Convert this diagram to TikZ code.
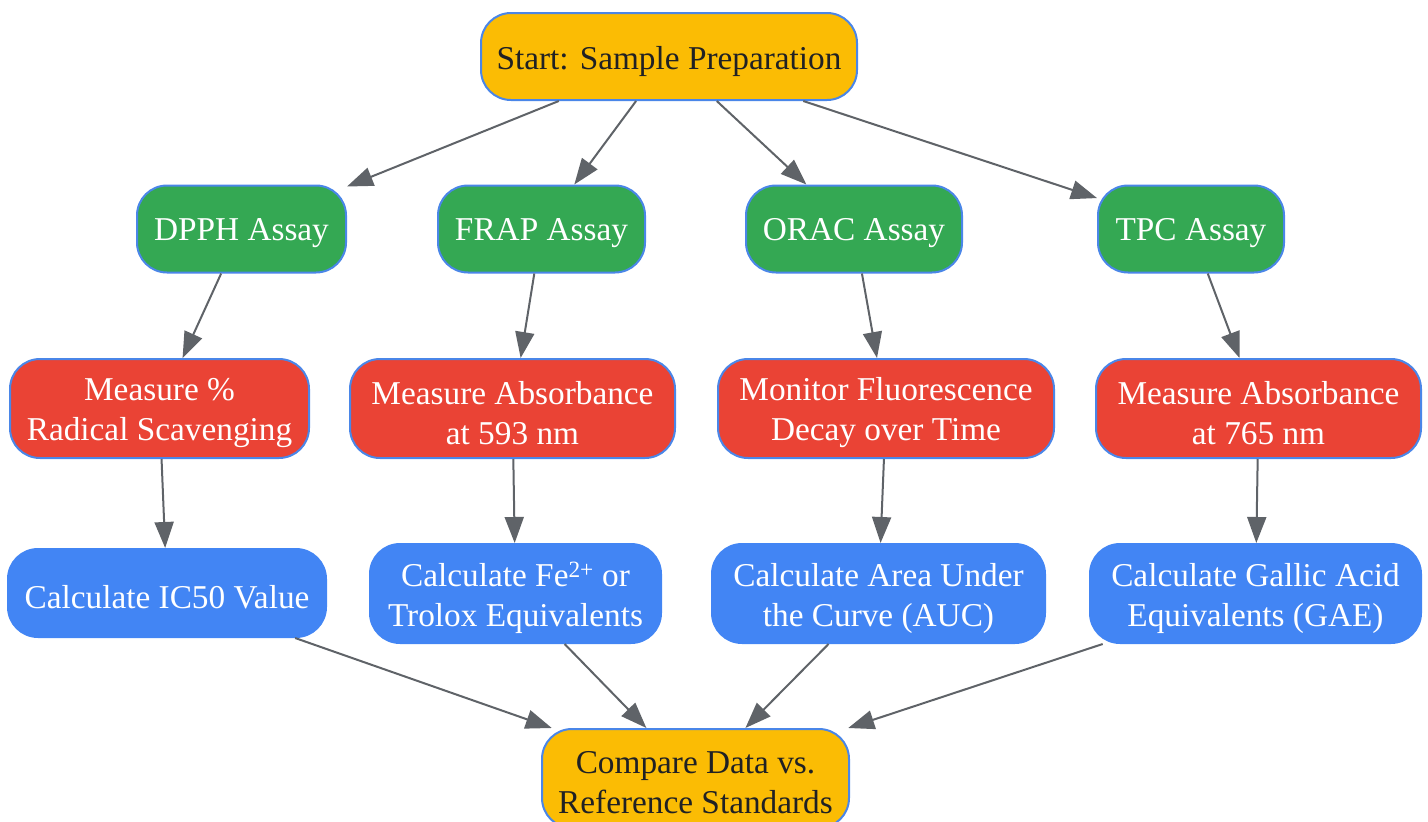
\documentclass[tikz,border=0pt]{standalone}
\usepackage{fontspec}
\setmainfont{Liberation Serif}
\usetikzlibrary{arrows.meta}
\definecolor{cyel}{HTML}{FBBC04}
\definecolor{cgrn}{HTML}{34A853}
\definecolor{cred}{HTML}{EA4335}
\definecolor{cblu}{HTML}{4285F4}
\definecolor{cbord}{HTML}{4A86E8}
\definecolor{carr}{HTML}{5F6368}
\definecolor{ctxt}{HTML}{202124}
\begin{document}
\begin{tikzpicture}[x=1pt,y=-1pt,
  box/.style={draw=cbord, line width=2pt, rounded corners=30pt, inner sep=0pt},
  ybox/.style={box, fill=cyel},
  gbox/.style={box, fill=cgrn, minimum height=87pt},
  rbox/.style={box, fill=cred, minimum height=99pt},
  bbox/.style={box, draw=cblu, fill=cblu, minimum height=99pt},
  lab/.style={align=center, font=\fontsize{33.3}{40}\selectfont, inner sep=0pt, yshift=-4.5pt, text=white},
  dlab/.style={lab, text=ctxt},
  arr/.style={draw=carr, line width=2pt, -{Triangle[length=26pt,width=19pt]}}]
\useasboundingbox (0,0) rectangle (1428,822);
\node[ybox, minimum width=376pt, minimum height=87pt] (start) at (669,56.5) {};
\node[dlab] (tstart) at (start.center) {Start: Sample Preparation};
\node[gbox, minimum width=209pt] (dpph) at (241.5,229) {};
\node[lab] (tdpph) at (dpph.center) {DPPH Assay};
\node[gbox, minimum width=207pt] (frap) at (541.5,229) {};
\node[lab] (tfrap) at (frap.center) {FRAP Assay};
\node[gbox, minimum width=216pt] (orac) at (854,229) {};
\node[lab] (torac) at (orac.center) {ORAC Assay};
\node[gbox, minimum width=186pt] (tpc) at (1191,229) {};
\node[lab] (ttpc) at (tpc.center) {TPC Assay};
\node[rbox, minimum width=299pt] (m1) at (159.5,408.5) {};
\node[lab] (tm1) at (m1.center) {Measure \%\\Radical Scavenging};
\node[rbox, minimum width=325pt] (m2) at (512.5,408.5) {};
\node[lab] (tm2) at (m2.center) {Measure Absorbance\\at 593 nm};
\node[rbox, minimum width=336pt] (m3) at (886,408.5) {};
\node[lab] (tm3) at (m3.center) {Monitor Fluorescence\\Decay over Time};
\node[rbox, minimum width=325pt] (m4) at (1258.5,408.5) {};
\node[lab] (tm4) at (m4.center) {Measure Absorbance\\at 765 nm};
\node[bbox, minimum width=318pt, minimum height=88pt] (c1) at (167,593) {};
\node[lab] (tc1) at (c1.center) {Calculate IC50 Value};
\node[bbox, minimum width=291pt] (c2) at (515.5,593.5) {};
\node[lab] (tc2) at (c2.center) {Calculate Fe\textsuperscript{2+} or\\Trolox Equivalents};
\node[bbox, minimum width=333pt] (c3) at (878.5,593.5) {};
\node[lab] (tc3) at (c3.center) {Calculate Area Under\\the Curve (AUC)};
\node[bbox, minimum width=331pt] (c4) at (1255.5,593.5) {};
\node[lab] (tc4) at (c4.center) {Calculate Gallic Acid\\Equivalents (GAE)};
\node[ybox, minimum width=307pt, minimum height=99pt] (cmp) at (695.5,778.5) {};
\node[dlab] (tcmp) at (cmp.center) {Compare Data vs.\\Reference Standards};
\draw[arr] (start) -- (dpph);
\draw[arr] (start) -- (frap);
\draw[arr] (start) -- (orac);
\draw[arr] (start) -- (tpc);
\draw[arr] (dpph) -- (m1);
\draw[arr] (frap) -- (m2);
\draw[arr] (orac) -- (m3);
\draw[arr] (tpc) -- (m4);
\draw[arr] (m1) -- (c1);
\draw[arr] (m2) -- (c2);
\draw[arr] (m3) -- (c3);
\draw[arr] (m4) -- (c4);
\draw[arr] (c1) -- (cmp);
\draw[arr] (c2) -- (cmp);
\draw[arr] (c3) -- (cmp);
\draw[arr] (c4) -- (cmp);
\end{tikzpicture}
\end{document}
